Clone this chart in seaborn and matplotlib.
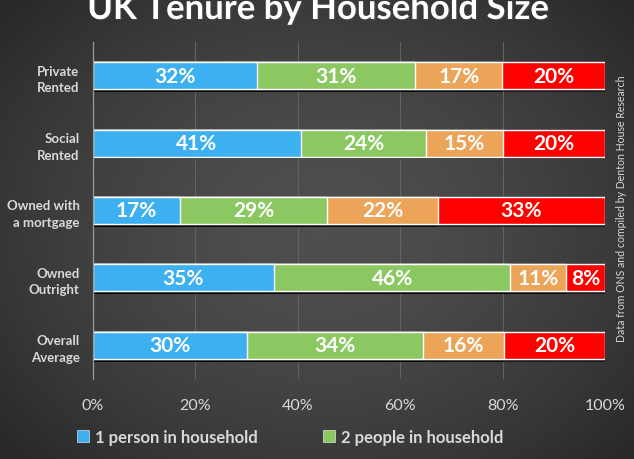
"""
UK Tenure by Household Size: horizontal 100% stacked bars on a dark backdrop.
"""

import numpy as np
import pandas as pd
import matplotlib
matplotlib.use("Agg")
import matplotlib.pyplot as plt
import matplotlib.patches as mpatches
import matplotlib.patheffects as pe
from matplotlib.ticker import PercentFormatter
import seaborn as sns

# ─── Datos ──────────────────────────────────────────────────────────────────

TENURES = ["Private\nRented", "Social\nRented", "Owned with\na mortgage",
           "Owned\nOutright", "Overall\nAverage"]

SERIES = ["1 person in household", "2 people in household",
          "3 people in household", "4 or more people in household"]

ONE_PERSON  = [32.0, 40.7, 17.1, 35.4, 30.1]
TWO_PEOPLE  = [31.0, 24.3, 28.6, 46.1, 34.3]
THREE_PEOPLE = [16.9, 15.1, 21.7, 10.8, 15.9]
FOUR_PLUS   = [20.1, 19.9, 32.6, 7.7, 19.7]

X_TICKS = [0, 20, 40, 60, 80, 100]

COLORS = ["#3cb0f0", "#8cc862", "#eba458", "#fe0000"]

SOURCE = "Data from ONS and compiled by Denton House Research"
TITLE = "UK Tenure by Household Size"

# ─── Estilo ─────────────────────────────────────────────────────────────────

sns.set_theme(style="dark")
plt.rcParams["font.family"] = ["Lato", "DejaVu Sans"]

TXT = "#d9d9d9"

fig = plt.figure(figsize=(6.34, 4.6), dpi=100)

# fondo con degradado radial
bg = fig.add_axes([0, 0, 1, 1], zorder=-10)
yy, xx = np.mgrid[0:460, 0:634]
r = np.sqrt(((xx - 320) / 420) ** 2 + ((yy - 230) / 330) ** 2)
r = np.clip(r, 0, 1)
c0, c1 = 0.31, 0.16
img = c0 + (c1 - c0) * r ** 1.6
bg.imshow(np.dstack([img, img, img]), aspect="auto", extent=[0, 1, 0, 1])
bg.set_axis_off()

ax = fig.add_axes([92.7 / 634, 1 - 380 / 460, 512.3 / 634, 337 / 460])
ax.set_facecolor("none")

# ─── Barras apiladas ────────────────────────────────────────────────────────

df = pd.DataFrame({"tenure": TENURES, SERIES[0]: ONE_PERSON,
                   SERIES[1]: TWO_PEOPLE, SERIES[2]: THREE_PEOPLE,
                   SERIES[3]: FOUR_PLUS})
cum = df[SERIES].cumsum(axis=1)

shadow = [pe.SimplePatchShadow(offset=(0, -2), shadow_rgbFace="black", alpha=0.55),
          pe.Normal()]

for k in range(len(SERIES) - 1, -1, -1):
    tmp = pd.DataFrame({"tenure": df["tenure"], "x": cum[SERIES[k]]})
    sns.barplot(data=tmp, x="x", y="tenure", orient="h", color=COLORS[k],
                width=0.4, saturation=1, ax=ax, zorder=3)

for patch in ax.patches:
    patch.set_path_effects(shadow)

# etiquetas de porcentaje
for i in range(len(TENURES)):
    left = 0
    for k, s in enumerate(SERIES):
        val = df[s].iloc[i]
        ax.text(left + val / 2, i, f"{round(val)}%", ha="center", va="center",
                color="white", fontsize=15, fontweight="bold", zorder=5)
        left += val

# ─── Ejes ───────────────────────────────────────────────────────────────────

ax.set_xlim(0, 100)
ax.set_xticks(X_TICKS)
ax.xaxis.set_major_formatter(PercentFormatter(decimals=0))
ax.grid(axis="x", color="#626262", linewidth=0.8, zorder=0)
ax.grid(axis="y", visible=False)
for side in ["top", "right", "bottom"]:
    ax.spines[side].set_visible(False)
ax.spines["left"].set_color("#9a9a9a")
ax.spines["left"].set_linewidth(0.9)
ax.spines["left"].set_zorder(4)
ax.set_xlabel("")
ax.set_ylabel("")
ax.tick_params(axis="x", colors=TXT, labelsize=11.5, pad=14, length=0)
ax.tick_params(axis="y", colors=TXT, labelsize=9.5, pad=9.5, length=0)
for lbl in ax.get_yticklabels():
    lbl.set_fontweight("bold")
    lbl.set_linespacing(1.45)
    lbl.set_horizontalalignment("right")
    lbl.set_multialignment("right")

# ─── Título, fuente y leyenda ───────────────────────────────────────────────

fig.text(0.502, 1 - 20 / 460, TITLE, ha="center", va="baseline", color="white",
         fontsize=25, fontweight="bold",
         path_effects=[pe.withSimplePatchShadow(offset=(1, -1), alpha=0.5)])

fig.text(621.5 / 634, 1 - 209 / 460, SOURCE, rotation=90, ha="center",
         va="center", color=TXT, fontsize=7.6)

handles = [mpatches.Patch(facecolor=c, edgecolor="white", linewidth=0.4, label=s)
           for c, s in zip(COLORS, SERIES)]
order = [0, 2, 1, 3]
fig.legend([handles[j] for j in order], [SERIES[j] for j in order],
           ncol=2, loc="upper left", bbox_to_anchor=(62 / 634, 1 - 415 / 460),
           frameon=False, handlelength=0.7, handleheight=0.7,
           handletextpad=0.4, columnspacing=3.9, labelspacing=0.8,
           prop={"weight": "bold", "size": 12}, labelcolor=TXT)

fig.savefig("out.png", dpi=100)
